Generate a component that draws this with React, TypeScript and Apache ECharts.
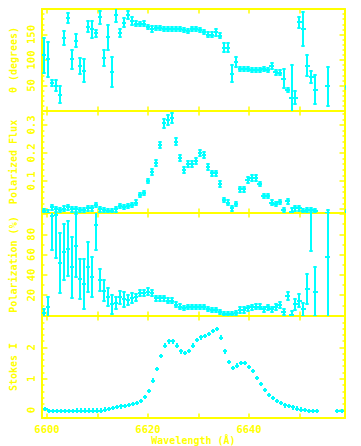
import React, { useEffect, useRef } from 'react';
import * as echarts from 'echarts';

const YELLOW = '#ffff00';
const CYAN = '#00ffff';
const FONT = '"DejaVu Sans Mono", "Liberation Mono", monospace';

// ---------- axes ----------
const X_MIN = 6599;
const X_MAX = 6659;
const X_TICKS = [6600, 6610, 6620, 6630, 6640, 6650];
const X_LABELS = [6600, 6620, 6640];

const THETA_RANGE = [0, 200];
const THETA_LABELS = [50, 100, 150];
const THETA_MAJOR = [50, 100, 150];
const THETA_MINOR = [10, 20, 30, 40, 60, 70, 80, 90, 110, 120, 130, 140, 160, 170, 180, 190];

const PFLUX_RANGE = [-0.0143, 0.35];
const PFLUX_LABELS = [0.1, 0.2, 0.3];
const PFLUX_MAJOR = [0, 0.1, 0.2, 0.3];
const PFLUX_MINOR = [0.02, 0.04, 0.06, 0.08, 0.12, 0.14, 0.16, 0.18, 0.22, 0.24, 0.26, 0.28, 0.32, 0.34];

const POL_RANGE = [-0.5, 101];
const POL_LABELS = [20, 40, 60, 80];
const POL_MAJOR = [0, 20, 40, 60, 80, 100];
const POL_MINOR = [10, 30, 50, 70, 90];

const STOKES_RANGE = [-0.25, 3.0];
const STOKES_LABELS = [0, 1, 2];
const STOKES_MAJOR = [0, 1, 2, 3];
const STOKES_MINOR = [0.2, 0.4, 0.6, 0.8, 1.2, 1.4, 1.6, 1.8, 2.2, 2.4, 2.6, 2.8];

// ---------- data ----------
const XERR = 0.42; // half bin width (Å)
const IERR = 0.07; // Stokes I error

const LAMBDA_I = [
  6599.70, 6600.49, 6601.28, 6602.07, 6602.86, 6603.65, 6604.44, 6605.23, 6606.02, 6606.81,
  6607.60, 6608.39, 6609.18, 6609.97, 6610.76, 6611.55, 6612.34, 6613.13, 6613.92, 6614.71,
  6615.50, 6616.29, 6617.08, 6617.87, 6618.66, 6619.45, 6620.24, 6621.03, 6621.82, 6622.61,
  6623.40, 6624.19, 6624.98, 6625.77, 6626.56, 6627.35, 6628.14, 6628.93, 6629.72, 6630.51,
  6631.30, 6632.09, 6632.88, 6633.67, 6634.46, 6635.25, 6636.04, 6636.83, 6637.62, 6638.41,
  6639.20, 6639.99, 6640.78, 6641.57, 6642.36, 6643.15, 6643.94, 6644.73, 6645.52, 6646.31,
  6647.10, 6647.89, 6648.68, 6649.47, 6650.26, 6651.05, 6651.84, 6652.63, 6653.42,
  6657.50, 6658.35,
];
const STOKES_I = [
  0.03, -0.02, -0.02, -0.02, -0.02, -0.02, -0.02, -0.02, -0.015, -0.015,
  -0.015, -0.015, -0.015, -0.015, -0.015, 0.02, 0.04, 0.07, 0.10, 0.12,
  0.14, 0.16, 0.19, 0.23, 0.30, 0.41, 0.61, 0.94, 1.32, 1.72,
  2.06, 2.19, 2.19, 2.06, 1.87, 1.83, 1.89, 2.06, 2.24, 2.32,
  2.37, 2.43, 2.52, 2.58, 2.31, 1.87, 1.53, 1.35, 1.42, 1.51,
  1.51, 1.38, 1.24, 1.02, 0.83, 0.65, 0.48, 0.38, 0.30, 0.22,
  0.15, 0.13, 0.09, 0.05, 0.02, 0.0, -0.02, -0.03, -0.03,
  -0.02, -0.02,
];

const LAMBDA_P = [
  6599.43, 6600.22, 6601.01, 6601.80, 6602.59, 6603.38, 6604.17, 6604.96, 6605.75, 6606.54,
  6607.33, 6608.12, 6608.91, 6609.70, 6610.49, 6611.28, 6612.07, 6612.86, 6613.65, 6614.44,
  6615.23, 6616.02, 6616.81, 6617.60, 6618.39, 6619.18, 6619.97, 6620.76, 6621.55, 6622.34,
  6623.13, 6623.92, 6624.71, 6625.50, 6626.29, 6627.08, 6627.87, 6628.66, 6629.45, 6630.24,
  6631.03, 6631.82, 6632.61, 6633.40, 6634.19, 6634.98, 6635.77, 6636.56, 6637.35, 6638.14,
  6638.93, 6639.72, 6640.51, 6641.30, 6642.09, 6642.88, 6643.67, 6644.46, 6645.25, 6646.04,
  6646.83, 6647.62, 6648.41, 6649.20, 6649.99, 6650.78, 6651.57, 6652.36, 6653.15,
  6655.55, 6659.40,
];
const THETA = [
  109, 101, 55, 50, 32, 143.5, 183, 101, 138, 88,
  79, 165, 160, 152, 184, 104, 145, 76, 189, 153,
  173, 189, 177, 171, 170, 171.5, 165, 161, 163, 163,
  161, 161, 161, 160, 161, 158.5, 156.5, 161, 160, 158,
  154.5, 150, 150, 154.5, 148, 124, 124, 73.5, 96.5, 83,
  83, 82.5, 81, 79.5, 80, 82.5, 79.5, 88, 76, 75,
  63, 42, 26, 26, 174, 161, 89, 67, 42,
  48.6, 47,
];
const THETA_ERR = [
  35, 34, 6.5, 10.5, 17, 14, 10, 18, 13, 16,
  23, 10.5, 16, 6, 13, 16, 24.5, 29, 15, 8,
  9, 8, 7.5, 5, 4, 4, 4, 5.5, 4, 4,
  4, 4, 4, 4, 4, 4, 4, 4, 4, 4,
  4, 4, 4, 6.5, 4, 9, 9, 16, 10, 4,
  4, 4, 4, 4, 4, 4, 4, 6.5, 4.5, 4.5,
  18.6, 4, 65, 13, 10.5, 33, 21, 12, 28,
  38.5, 3,
];
const PFLUX = [
  -0.007, -0.013, 0.006, -0.001, -0.004, 0.001, 0.006, -0.001, -0.001, -0.004,
  -0.004, 0.002, 0.002, 0.014, -0.001, -0.004, -0.007, -0.007, -0.001, 0.011,
  0.008, 0.011, 0.014, 0.023, 0.050, 0.058, 0.100, 0.133, 0.165, 0.229,
  0.306, 0.318, 0.324, 0.240, 0.183, 0.139, 0.161, 0.161, 0.171, 0.199,
  0.193, 0.151, 0.127, 0.127, 0.089, 0.032, 0.023, 0.002, 0.018, 0.070,
  0.070, 0.104, 0.110, 0.110, 0.089, 0.046, 0.046, 0.023, 0.018, 0.025,
  -0.004, 0.027, -0.010, 0.002, 0.002, -0.007, -0.004, -0.004, -0.007,
  -0.013, -0.010,
];
const PFLUX_ERR = [
  0.008, 0.008, 0.008, 0.008, 0.008, 0.008, 0.008, 0.008, 0.008, 0.008,
  0.008, 0.008, 0.008, 0.008, 0.008, 0.008, 0.008, 0.008, 0.008, 0.008,
  0.008, 0.008, 0.008, 0.008, 0.008, 0.008, 0.008, 0.01, 0.01, 0.012,
  0.015, 0.018, 0.018, 0.012, 0.01, 0.01, 0.01, 0.01, 0.01, 0.01,
  0.01, 0.01, 0.01, 0.01, 0.01, 0.008, 0.008, 0.008, 0.008, 0.008,
  0.008, 0.01, 0.01, 0.01, 0.008, 0.008, 0.008, 0.008, 0.008, 0.008,
  0.008, 0.008, 0.012, 0.008, 0.008, 0.008, 0.008, 0.008, 0.008,
  0.008, 0.008,
];
const POL = [
  2.8, 8, 98, 99, 51.7, 62.6, 66, 47.3, 68.8, 36,
  31, 47.7, 38, 89, 35, 24.5, 18, 11, 12.7, 18,
  16, 15.3, 17, 18, 22.6, 22, 23.6, 22, 17, 17,
  17, 14.7, 14.7, 10.4, 8.7, 7.7, 8.7, 8, 8, 8.7,
  8, 6, 5.4, 5.4, 3.5, 1.5, 1.5, 1.5, 2.2, 5.4,
  5.4, 7, 8, 8.7, 8.7, 6, 8, 6, 8, 10.4,
  3.8, 19.3, 0.5, 11, 14.7, 6, 26, 110, 23.6,
  58, null,
];
const POL_ERR = [
  4, 10, 33, 42, 30, 28, 27.5, 30, 31, 20,
  25, 25, 20, 24, 10.5, 10.5, 9, 9.5, 6, 6.5,
  7.5, 5, 5, 3.5, 3, 3, 3, 3, 2.5, 2.5,
  2.5, 2.5, 2.5, 2.5, 2.5, 2, 2, 2, 2, 2,
  2, 2, 2, 2, 2, 2, 2, 2, 2, 2.5,
  2.5, 2.5, 2.5, 2.5, 2.5, 2.5, 2.5, 2.5, 3, 3,
  3, 4, 4, 5.5, 6, 6.7, 14.7, 46, 23.8,
  59, null,
];

// ---------- layout ----------
const GRIDS = [
  { top: 9, height: 102 },
  { top: 111, height: 102 },
  { top: 213, height: 103 },
  { top: 316, height: 102 },
];

const PANELS = [
  { range: THETA_RANGE, labels: THETA_LABELS, major: THETA_MAJOR, minor: THETA_MINOR, name: 'θ (degrees)' },
  { range: PFLUX_RANGE, labels: PFLUX_LABELS, major: PFLUX_MAJOR, minor: PFLUX_MINOR, name: 'Polarized Flux' },
  { range: POL_RANGE, labels: POL_LABELS, major: POL_MAJOR, minor: POL_MINOR, name: 'Polarization (%)' },
  { range: STOKES_RANGE, labels: STOKES_LABELS, major: STOKES_MAJOR, minor: STOKES_MINOR, name: 'Stokes I' },
];

const textStyle = { color: YELLOW, fontFamily: FONT, fontSize: 10, fontWeight: 'bold' as const };
const plain = (v: number) => String(v);

function buildPoints(xs: number[], ys: (number | null)[], es: (number | null)[] | number) {
  const out: number[][] = [];
  xs.forEach((x, i) => {
    const y = ys[i];
    const e = typeof es === 'number' ? es : es[i];
    if (y == null || e == null) return;
    out.push([x, y, XERR, e]);
  });
  return out;
}

function errSeries(gi: number, data: number[][], cap: boolean) {
  return {
    type: 'custom',
    xAxisIndex: gi * 2,
    yAxisIndex: gi * 4,
    clip: true,
    data,
    encode: { x: 0, y: 1 },
    renderItem: (_params: any, api: any) => {
      const x = api.value(0);
      const y = api.value(1);
      const xe = api.value(2);
      const ye = api.value(3);
      const c = api.coord([x, y]);
      const l = api.coord([x - xe, y]);
      const r = api.coord([x + xe, y]);
      const t = api.coord([x, y + ye]);
      const b = api.coord([x, y - ye]);
      const cx = Math.round(c[0]);
      const cy = Math.round(c[1]);
      const st = { stroke: CYAN, lineWidth: 2, fill: null };
      const children: any[] = [
        { type: 'line', shape: { x1: Math.round(l[0]), y1: cy, x2: Math.round(r[0]), y2: cy }, style: st },
        { type: 'line', shape: { x1: cx, y1: Math.round(t[1]), x2: cx, y2: Math.round(b[1]) }, style: st },
      ];
      if (cap) {
        const w = 1.7;
        children.push(
          { type: 'line', shape: { x1: cx - w, y1: Math.round(t[1]), x2: cx + w, y2: Math.round(t[1]) }, style: st },
          { type: 'line', shape: { x1: cx - w, y1: Math.round(b[1]), x2: cx + w, y2: Math.round(b[1]) }, style: st },
        );
      }
      return { type: 'group', children };
    },
  };
}

function buildOption() {
  const grid = GRIDS.map((g) => ({ left: 37, width: 308, top: g.top, height: g.height, show: false }));
  const xAxis: any[] = [];
  const yAxis: any[] = [];
  GRIDS.forEach((_g, gi) => {
    ['bottom', 'top'].forEach((pos) => {
      const isLabelled = gi === 3 && pos === 'bottom';
      xAxis.push({
        type: 'value',
        gridIndex: gi,
        position: pos,
        min: X_MIN,
        max: X_MAX,
        axisLine: { show: true, onZero: false, lineStyle: { color: YELLOW, width: 2 } },
        axisTick: { show: true, inside: true, length: 4.5, customValues: X_TICKS, lineStyle: { color: YELLOW, width: 1.5 } },
        axisLabel: { show: isLabelled, customValues: X_LABELS, formatter: plain, margin: 5, ...textStyle, fontSize: 10.5 },
        splitLine: { show: false },
        name: isLabelled ? 'Wavelength (Å)' : '',
        nameLocation: 'middle',
        nameGap: 17,
        nameTextStyle: textStyle,
      });
    });
    const p = PANELS[gi];
    ['left', 'right'].forEach((pos) => {
      const isLeft = pos === 'left';
      yAxis.push({
        type: 'value',
        gridIndex: gi,
        position: pos,
        min: p.range[0],
        max: p.range[1],
        axisLine: { show: true, onZero: false, lineStyle: { color: YELLOW, width: 2 } },
        axisTick: { show: true, inside: true, length: 5.5, customValues: p.major, lineStyle: { color: YELLOW, width: 1.5 } },
        axisLabel: { show: isLeft, customValues: p.labels, formatter: plain, rotate: 90, margin: 5, ...textStyle, fontSize: 10.5 },
        splitLine: { show: false },
        name: isLeft ? p.name : '',
        nameLocation: 'middle',
        nameGap: 22,
        nameTextStyle: textStyle,
      });
      yAxis.push({
        type: 'value',
        gridIndex: gi,
        position: pos,
        min: p.range[0],
        max: p.range[1],
        axisLine: { show: false, onZero: false },
        axisTick: { show: true, inside: true, length: 2.5, customValues: p.minor, lineStyle: { color: YELLOW, width: 1.5 } },
        axisLabel: { show: false },
        splitLine: { show: false },
      });
    });
  });

  const series = [
    errSeries(0, buildPoints(LAMBDA_P, THETA, THETA_ERR), true),
    errSeries(1, buildPoints(LAMBDA_P, PFLUX, PFLUX_ERR), true),
    errSeries(2, buildPoints(LAMBDA_P, POL, POL_ERR), true),
    errSeries(3, buildPoints(LAMBDA_I, STOKES_I, IERR), false),
  ];

  return {
    animation: false,
    backgroundColor: '#ffffff',
    grid,
    xAxis,
    yAxis,
    series,
  };
}

export default function App() {
  const ref = useRef<HTMLDivElement>(null);
  useEffect(() => {
    if (!ref.current) return;
    const chart = echarts.init(ref.current, null, { renderer: 'svg' });
    chart.setOption(buildOption() as any);
    return () => chart.dispose();
  }, []);
  return (
    <div
      ref={ref}
      style={{ position: 'fixed', left: 0, top: 0, width: 361, height: 446, background: '#ffffff' }}
    />
  );
}
